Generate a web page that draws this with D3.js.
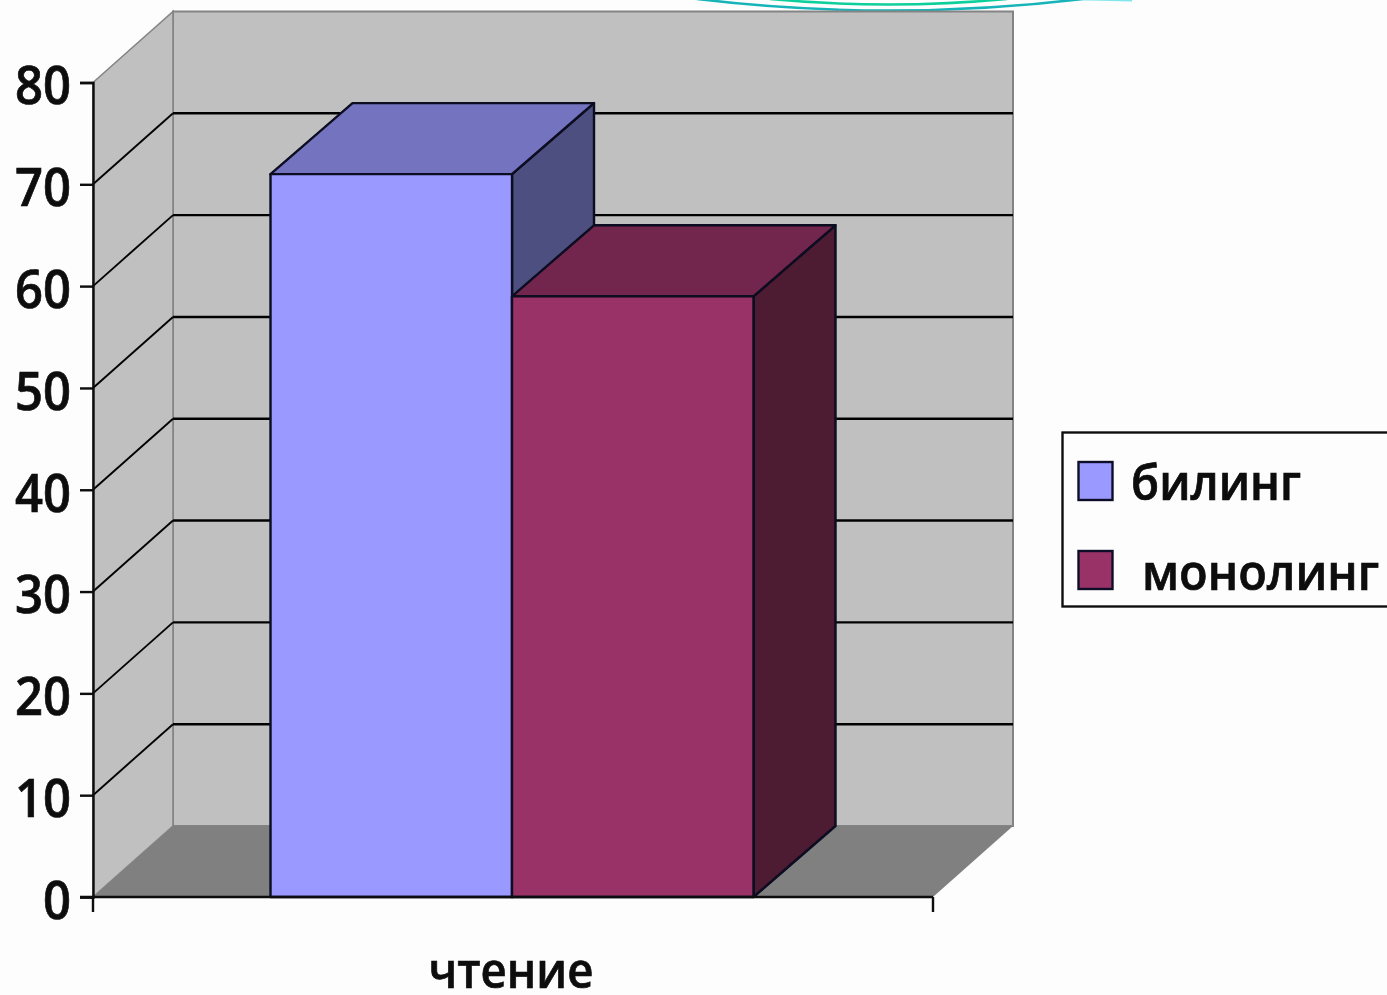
<!DOCTYPE html>
<html lang="ru">
<head>
<meta charset="utf-8">
<title>чтение</title>
<script src="https://cdnjs.cloudflare.com/ajax/libs/d3/7.8.5/d3.min.js"></script>
<style>
html, body { margin: 0; padding: 0; background: #fdfdfd; }
svg { display: block; }
text { font-family: "Open Sans", "DejaVu Sans", sans-serif; fill: #0a0a0a; stroke: #0a0a0a; stroke-width: 0.7px; }
</style>
</head>
<body>
<svg id="chart" width="1387" height="995"></svg>
<script>
// Chart data
const category = "чтение";
const seriesNames = ["билинг", "монолинг"];
const seriesValues = [71, 59];
const tickValues = [0, 10, 20, 30, 40, 50, 60, 70, 80];
const faceColors = ["#9999ff", "#993366"];
const topColors = ["#7373bf", "#73264d"];
const sideColors = ["#4d5080", "#4d1a33"];

const svg = d3.select("#chart");
svg.append("defs").append("filter").attr("id", "soft")
  .attr("filterUnits", "userSpaceOnUse")
  .attr("x", 0).attr("y", 0).attr("width", 1387).attr("height", 995)
  .append("feGaussianBlur").attr("stdDeviation", 0.55);
const root = svg.append("g").attr("filter", "url(#soft)");

// Oblique projection: depth offset from the front plane to the back wall
const depthX = 80, depthY = -71;
const y = d3.scaleLinear().domain([0, 80]).range([897, 82.5]);
const xFront = d3.scaleBand().domain(seriesNames).range([270.5, 753.5]).padding(0);
const plotLeft = 93, plotRight = 933;

const line = d3.line();
const poly = pts => line(pts) + "Z";

// Decorative arcs at the top edge of the slide
const arcs = root.append("g").attr("fill", "none");
arcs.append("path").attr("d", "M697,-1Q890,22 1083,-1")
  .attr("stroke", "#14b4b8").attr("stroke-width", 2.4);
arcs.append("path").attr("d", "M770,-1Q888,10 1007,-1")
  .attr("stroke", "#10cf9c").attr("stroke-width", 2.4);
arcs.append("path").attr("d", "M1083,-0.5L1132,0.5")
  .attr("stroke", "#7fe6ec").attr("stroke-width", 1.8);

// Back wall, side wall and floor
root.append("path")
  .attr("d", poly([[plotLeft + depthX, y(0) + depthY], [plotLeft + depthX, y(80) + depthY],
                   [plotRight + depthX, y(80) + depthY], [plotRight + depthX, y(0) + depthY]]))
  .attr("fill", "#c0c0c0").attr("stroke", "#848484").attr("stroke-width", 2);
root.append("path")
  .attr("d", poly([[plotLeft, y(0)], [plotLeft, y(80)],
                   [plotLeft + depthX, y(80) + depthY], [plotLeft + depthX, y(0) + depthY]]))
  .attr("fill", "#c0c0c0").attr("stroke", "#848484").attr("stroke-width", 1.6);
root.append("path")
  .attr("d", poly([[plotLeft, y(0)], [plotLeft + depthX, y(0) + depthY],
                   [plotRight + depthX, y(0) + depthY], [plotRight, y(0)]]))
  .attr("fill", "#808080");

// Gridlines run across the back wall and fold down the side wall
const gridTicks = tickValues.filter(t => t > 0 && t < 80);
const grid = root.append("g").attr("fill", "none").attr("stroke", "#050505");
grid.selectAll("path.back").data(gridTicks).join("path").attr("class", "back")
  .attr("d", t => line([[plotLeft + depthX, y(t) + depthY], [plotRight + depthX, y(t) + depthY]]))
  .attr("stroke-width", 2.4);
grid.selectAll("path.side").data(gridTicks).join("path").attr("class", "side")
  .attr("d", t => line([[plotLeft, y(t)], [plotLeft + depthX, y(t) + depthY]]))
  .attr("stroke-width", 1.9);

// Bars: front, top and right faces
const bars = root.append("g").attr("stroke", "#0a0a20").attr("stroke-width", 2.4)
  .attr("stroke-linejoin", "round")
  .selectAll("g").data(seriesNames).join("g");
bars.append("path").attr("fill", (d, i) => sideColors[i])
  .attr("d", (d, i) => {
    const r = xFront(d) + xFront.bandwidth(), t = y(seriesValues[i]);
    return poly([[r, t], [r + depthX + 2, t + depthY], [r + depthX + 2, y(0) + depthY], [r, y(0)]]);
  });
bars.append("path").attr("fill", (d, i) => topColors[i])
  .attr("d", (d, i) => {
    const l = xFront(d), r = l + xFront.bandwidth(), t = y(seriesValues[i]);
    return poly([[l, t], [l + depthX + 2, t + depthY], [r + depthX + 2, t + depthY], [r, t]]);
  });
bars.append("rect").attr("fill", (d, i) => faceColors[i])
  .attr("x", d => xFront(d)).attr("width", xFront.bandwidth())
  .attr("y", (d, i) => y(seriesValues[i]))
  .attr("height", (d, i) => y(0) - y(seriesValues[i]));

// Value axis
const yAxis = root.append("g").attr("transform", `translate(${plotLeft},0)`)
  .call(d3.axisLeft(y).tickValues(tickValues).tickSize(13).tickPadding(9));
yAxis.select(".domain").attr("stroke", "#0a0a0a").attr("stroke-width", 2.4);
yAxis.selectAll(".tick line").attr("stroke", "#0a0a0a").attr("stroke-width", 2.4);
yAxis.selectAll("text").attr("font-size", 52).attr("font-weight", 600)
  .style("font-family", '"Open Sans", sans-serif').attr("fill", "#0a0a0a")
  .attr("dy", "0.41em")
  .attr("textLength", d => d === 0 ? 28 : 56).attr("lengthAdjust", "spacingAndGlyphs");

// Category axis
const xAxis = root.append("g");
xAxis.append("line").attr("x1", plotLeft - 13).attr("x2", plotRight)
  .attr("y1", y(0)).attr("y2", y(0)).attr("stroke", "#0a0a0a").attr("stroke-width", 2.6);
xAxis.selectAll("line.t").data([plotLeft, plotRight]).join("line").attr("class", "t")
  .attr("x1", d => d).attr("x2", d => d).attr("y1", y(0)).attr("y2", y(0) + 15)
  .attr("stroke", "#0a0a0a").attr("stroke-width", 2.4);
xAxis.append("text").attr("x", 511).attr("y", 988).attr("text-anchor", "middle")
  .attr("font-size", 49).attr("font-weight", 600)
  .attr("textLength", 165).attr("lengthAdjust", "spacingAndGlyphs").text(category);

// Legend
const legend = root.append("g");
legend.append("rect").attr("x", 1062.5).attr("y", 432.5).attr("width", 340).attr("height", 174)
  .attr("fill", "#fdfdfd").attr("stroke", "#111").attr("stroke-width", 2.4);
const legendRows = legend.selectAll("g").data(seriesNames).join("g");
legendRows.append("rect").attr("x", 1078.5).attr("width", 34).attr("height", 38)
  .attr("y", (d, i) => [462, 551][i])
  .attr("fill", (d, i) => faceColors[i]).attr("stroke", "#10102a").attr("stroke-width", 2.4);
legendRows.append("text").attr("x", (d, i) => [1131, 1142][i]).attr("y", (d, i) => [500, 590][i])
  .attr("font-size", 48).attr("font-weight", 600)
  .attr("textLength", (d, i) => [170, 237][i]).attr("lengthAdjust", "spacingAndGlyphs").text(d => d);
</script>
</body>
</html>
